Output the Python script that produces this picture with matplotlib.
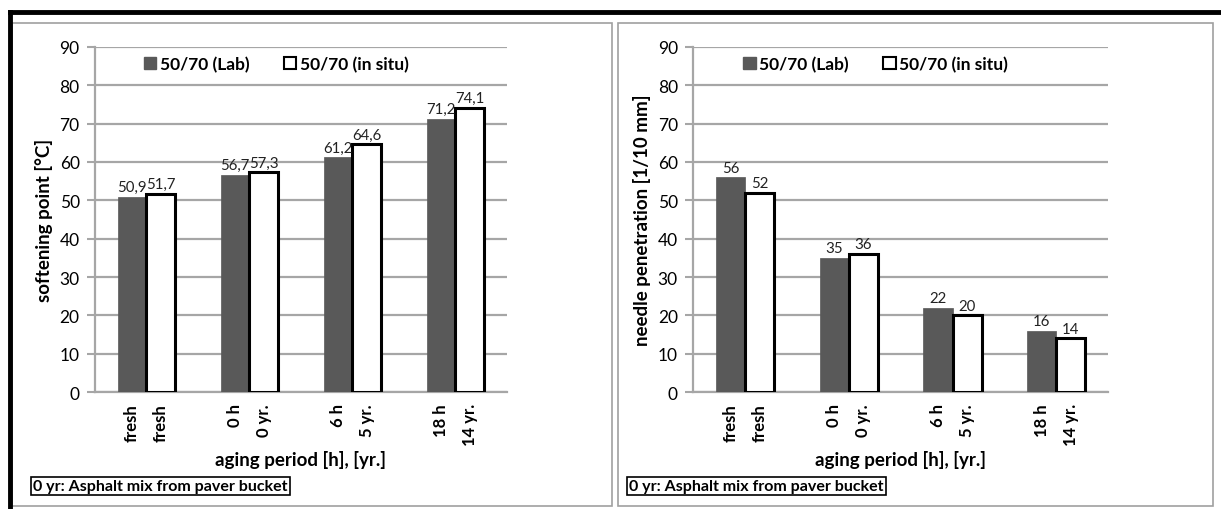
import matplotlib
matplotlib.use("Agg")
import matplotlib.pyplot as plt
import numpy as np
from matplotlib.patches import Rectangle
from matplotlib.lines import Line2D

plt.rcParams["font.family"] = ["Lato", "DejaVu Sans"]

groups = ["fresh", "0h", "6h", "18h"]
lab_ticks = ["fresh", "0 h", "6 h", "18 h"]
situ_ticks = ["fresh", "0 yr.", "5 yr.", "14 yr."]

soft_lab = [50.9, 56.7, 61.2, 71.2]
soft_situ = [51.7, 57.3, 64.6, 74.1]
pen_lab = [56, 35, 22, 16]
pen_situ = [52, 36, 20, 14]

legend_labels = ["50/70 (Lab)", "50/70 (in situ)"]
note = "0 yr: Asphalt mix from paver bucket"

DARK = "#595959"
GRID = "#a6a6a6"

fig = plt.figure(figsize=(12.21, 5.10), dpi=100)


def fmt(v):
    if float(v).is_integer():
        return f"{int(v)}"
    return f"{v:.1f}".replace(".", ",")


def panel(rect, lab, situ, ylabel):
    ax = fig.add_axes(rect)
    x = np.arange(len(groups))
    w = 0.28
    b1 = ax.bar(x - w / 2, lab, w, color=DARK, edgecolor=DARK, lw=0.5, zorder=3)
    b2 = ax.bar(x + w / 2, situ, w, color="white", edgecolor="black", lw=2.2, zorder=3)
    for bars, vals in ((b1, lab), (b2, situ)):
        for r, v in zip(bars, vals):
            ax.annotate(fmt(v), (r.get_x() + r.get_width() / 2, v), xytext=(0, 2),
                        textcoords="offset points", ha="center", va="bottom",
                        fontsize=10.8, color="#222222", zorder=4)
    ax.set_xlim(-0.5, len(groups) - 0.5)
    ax.set_ylim(0, 90)
    ax.set_yticks(range(0, 91, 10))
    ax.yaxis.grid(True, color=GRID, lw=1.6, zorder=0)
    ax.set_axisbelow(True)
    ax.set_xticks(np.concatenate([x - w / 2, x + w / 2]))
    ax.set_xticklabels(lab_ticks + situ_ticks, rotation=90, fontweight="bold", fontsize=12)
    ax.tick_params(axis="x", length=0, pad=8)
    ax.tick_params(axis="y", length=6, color=GRID, width=1.5, labelsize=12.5, pad=5)
    for s in ("top", "right"):
        ax.spines[s].set_visible(False)
    for s in ("left", "bottom"):
        ax.spines[s].set_color(GRID)
        ax.spines[s].set_linewidth(1.6)
    ax.set_ylabel(ylabel, fontweight="bold", fontsize=13.5, labelpad=5)
    ax.set_xlabel("aging period [h], [yr.]", fontweight="bold", fontsize=13.5, labelpad=3)
    handles = [Rectangle((0, 0), 1, 1, fc=DARK, ec=DARK),
               Rectangle((0, 0), 1, 1, fc="white", ec="black", lw=1.5)]
    ax.legend(handles, legend_labels, loc="upper center", bbox_to_anchor=(0.44, 1.02),
              ncol=2, frameon=False, prop=dict(weight="bold", size=12.5),
              handlelength=0.7, handleheight=0.7, handletextpad=0.2, columnspacing=2.0)
    return ax


panel([0.0778, 0.2294, 0.3374, 0.6765], soft_lab, soft_situ, "softening point [°C]")
panel([0.5676, 0.2294, 0.3400, 0.6765], pen_lab, pen_situ, "needle penetration [1/10 mm]")

# panel frames
W, H = 1221, 510
for x0, x1 in ((12, 612), (618, 1213)):
    fig.add_artist(Rectangle((x0 / W, 1 - 507 / H), (x1 - x0) / W, (507 - 24) / H,
                             transform=fig.transFigure, fill=False, ec="#a0a0a0", lw=1.2))
# outer black border
fig.add_artist(Line2D([10 / W, 1], [1 - 13 / H, 1 - 13 / H], transform=fig.transFigure,
                      color="black", lw=3.5))
fig.add_artist(Line2D([10 / W, 10 / W], [0, 1 - 13 / H], transform=fig.transFigure,
                      color="black", lw=3.5))

for xn in (33, 629):
    fig.text(xn / W, 1 - 487 / H, note, fontsize=11.5, fontweight="bold", ha="left", va="center",
             bbox=dict(boxstyle="square,pad=0.15", fc="white", ec="black", lw=1.2))

fig.savefig("out.png", dpi=100)
